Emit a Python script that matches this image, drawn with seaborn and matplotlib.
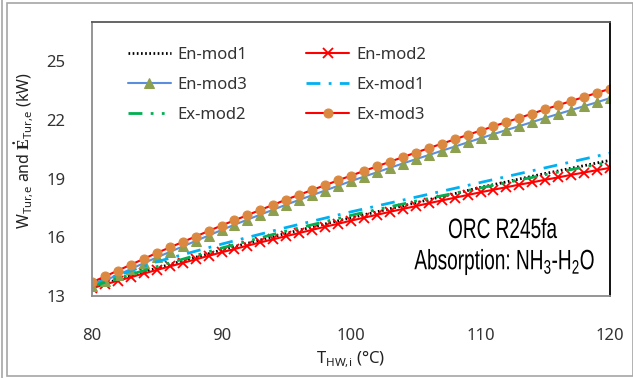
import numpy as np
import pandas as pd
import seaborn as sns
import matplotlib.pyplot as plt
from matplotlib.patches import Rectangle, PathPatch
from matplotlib.lines import Line2D
from matplotlib.textpath import TextPath
from matplotlib.font_manager import FontProperties
import matplotlib.transforms as mtransforms

# ---- data ----
t_hw = list(range(80, 121))

en_mod1 = [13.45, 13.64, 13.84, 14.03, 14.23, 14.42, 14.61, 14.79, 14.98, 15.16,
           15.35, 15.52, 15.69, 15.86, 16.03, 16.20, 16.36, 16.52, 16.68, 16.84,
           17.00, 17.15, 17.30, 17.46, 17.61, 17.76, 17.92, 18.08, 18.23, 18.39,
           18.55, 18.69, 18.83, 18.98, 19.12, 19.26, 19.39, 19.53, 19.66, 19.80, 19.93]
en_mod2 = [13.40, 13.59, 13.78, 13.96, 14.15, 14.33, 14.51, 14.69, 14.87, 15.05,
           15.23, 15.40, 15.57, 15.74, 15.90, 16.06, 16.22, 16.38, 16.54, 16.69,
           16.85, 17.00, 17.15, 17.30, 17.45, 17.59, 17.74, 17.88, 18.02, 18.16,
           18.30, 18.43, 18.56, 18.69, 18.81, 18.94, 19.06, 19.19, 19.31, 19.43, 19.55]
en_mod3 = [13.50, 13.79, 14.08, 14.38, 14.68, 14.97, 15.25, 15.53, 15.81, 16.09,
           16.37, 16.64, 16.90, 17.16, 17.41, 17.67, 17.91, 18.15, 18.39, 18.63,
           18.87, 19.10, 19.32, 19.55, 19.77, 19.99, 20.20, 20.42, 20.63, 20.85,
           21.06, 21.27, 21.48, 21.68, 21.89, 22.10, 22.30, 22.50, 22.70, 22.90, 23.11]
ex_mod1 = [13.60, 13.83, 14.06, 14.29, 14.52, 14.75, 14.93, 15.11, 15.29, 15.47,
           15.65, 15.82, 15.99, 16.16, 16.33, 16.50, 16.66, 16.82, 16.98, 17.14,
           17.30, 17.45, 17.60, 17.75, 17.90, 18.05, 18.20, 18.35, 18.50, 18.65,
           18.80, 18.95, 19.10, 19.25, 19.40, 19.55, 19.70, 19.85, 20.00, 20.15, 20.30]
ex_mod2 = [13.50, 13.70, 13.90, 14.10, 14.30, 14.50, 14.69, 14.88, 15.07, 15.26,
           15.45, 15.62, 15.80, 15.97, 16.15, 16.32, 16.48, 16.64, 16.80, 16.96,
           17.12, 17.27, 17.41, 17.56, 17.70, 17.85, 17.98, 18.12, 18.25, 18.39,
           18.52, 18.66, 18.79, 18.93, 19.06, 19.20, 19.33, 19.46, 19.59, 19.72, 19.85]
ex_mod3 = [13.70, 14.00, 14.30, 14.60, 14.90, 15.20, 15.48, 15.76, 16.04, 16.32,
           16.60, 16.87, 17.13, 17.40, 17.66, 17.93, 18.17, 18.42, 18.66, 18.91,
           19.15, 19.39, 19.62, 19.86, 20.09, 20.33, 20.55, 20.78, 21.00, 21.23,
           21.45, 21.67, 21.89, 22.10, 22.32, 22.54, 22.75, 22.96, 23.17, 23.38, 23.59]

x_ticks = [80, 90, 100, 110, 120]
y_ticks = [13, 16, 19, 22, 25]

df = pd.DataFrame({'T': t_hw, 'En-mod1': en_mod1, 'En-mod2': en_mod2, 'En-mod3': en_mod3,
                   'Ex-mod1': ex_mod1, 'Ex-mod2': ex_mod2, 'Ex-mod3': ex_mod3})

sns.set_style('white')
plt.rcParams['font.family'] = ['Noto Sans', 'DejaVu Sans']
plt.rcParams['mathtext.fontset'] = 'custom'
plt.rcParams['mathtext.rm'] = 'Noto Sans'
plt.rcParams['mathtext.bf'] = 'Liberation Serif:bold'

fig = plt.figure(figsize=(6.33, 3.78), dpi=100)
ax = fig.add_axes([92/633, 1-296/378, (610-92)/633, (296-22)/378])

# series styles
sns.lineplot(data=df, x='T', y='En-mod1', ax=ax, color='black', lw=2,
             dashes=False, label='En-mod1').lines[-1].set_dashes([0.6, 0.9])
sns.lineplot(data=df, x='T', y='En-mod2', ax=ax, color='#FF0000', lw=1.5,
             marker='x', markersize=7, markeredgewidth=1.3,
             markeredgecolor='#FF0000', label='En-mod2')
sns.lineplot(data=df, x='T', y='En-mod3', ax=ax, color='#5B8FDD', lw=1.5,
             marker='^', markersize=7.5, markerfacecolor='#8DA04F',
             markeredgecolor='#8DA04F', label='En-mod3')
sns.lineplot(data=df, x='T', y='Ex-mod1', ax=ax, color='#00B0F0', lw=2,
             label='Ex-mod1').lines[-1].set_dashes([5, 3, 1, 3])
sns.lineplot(data=df, x='T', y='Ex-mod2', ax=ax, color='#00B050', lw=2,
             label='Ex-mod2').lines[-1].set_dashes([5, 3, 1, 3, 1, 3])
sns.lineplot(data=df, x='T', y='Ex-mod3', ax=ax, color='#FF0000', lw=1.5,
             marker='o', markersize=6.5, markerfacecolor='#DB8840',
             markeredgecolor='#DB8840', label='Ex-mod3')

ax.set_xlim(80, 120)
ax.set_ylim(13, 27)
ax.set_xticks(x_ticks)
ax.set_yticks(y_ticks)
ax.tick_params(direction='in', length=5, color='#A0A0A0', labelsize=12,
               labelcolor='#333333')
ax.tick_params(axis='y', pad=19)
ax.tick_params(axis='x', pad=23)
ax.spines['left'].set_color('#8C8C8C')
ax.spines['bottom'].set_color('#8C8C8C')
ax.spines['top'].set_color('#595959')
ax.spines['right'].set_color('black')
for s in ax.spines.values():
    s.set_linewidth(1.3)

ax.set_xlabel(r'T$_{\mathrm{HW,\!i}}$ (°C)', fontsize=12, color='#222222', labelpad=4)
ax.set_ylabel(r'W$_{\mathrm{Tur,\!e}}$ and $\mathbf{\dot{E}}_{\mathrm{Tur,\!e}}$ (kW)',
              fontsize=11.5, color='#222222')
ax.yaxis.set_label_coords(-0.108, 0.53)

# legend: two columns
h, l = ax.get_legend_handles_labels()
order = ['En-mod1', 'En-mod3', 'Ex-mod2', 'En-mod2', 'Ex-mod1', 'Ex-mod3']
hd = dict(zip(l, h))
ax.legend([hd[k] for k in order], order, ncol=2, loc='upper left',
          bbox_to_anchor=(0.04, 0.965), frameon=False, fontsize=12,
          handlelength=2.6, handletextpad=0.4, columnspacing=3.5,
          labelspacing=0.85, labelcolor='#333333')

# condensed annotation text (narrow, tight like the original)
fp = FontProperties(family='Liberation Sans')
def narrow_text(s, x_px, y_px, sx=0.68, size=28):
    tp = TextPath((0, 0), s, size=size, prop=fp)
    ext = tp.get_extents()
    cx, cy = (ext.x0 + ext.x1) / 2, (ext.y0 + ext.y1) / 2
    tr = (mtransforms.Affine2D().translate(-cx, -cy).scale(sx, 1.0)
          + mtransforms.ScaledTranslation(x_px / 100, (378 - y_px) / 100,
                                          fig.dpi_scale_trans))
    fig.patches.append(PathPatch(tp, transform=tr, facecolor='black',
                                 edgecolor='none'))

narrow_text('ORC R245fa', 503, 228)
narrow_text(r'Absorption: NH$\mathregular{_3}$-H$\mathregular{_2}$O', 504, 262)

# outer frame
fig.patches.append(Rectangle((7/633, 2/378), 1 - 7/633, 1 - 5/378,
                             transform=fig.transFigure, fill=False,
                             edgecolor='#A6A6A6', lw=1.2))
fig.lines.append(Line2D([2/633, 2/633], [0, 1], transform=fig.transFigure,
                        color='#A6A6A6', lw=1.2))

fig.savefig('out.png', dpi=100)
